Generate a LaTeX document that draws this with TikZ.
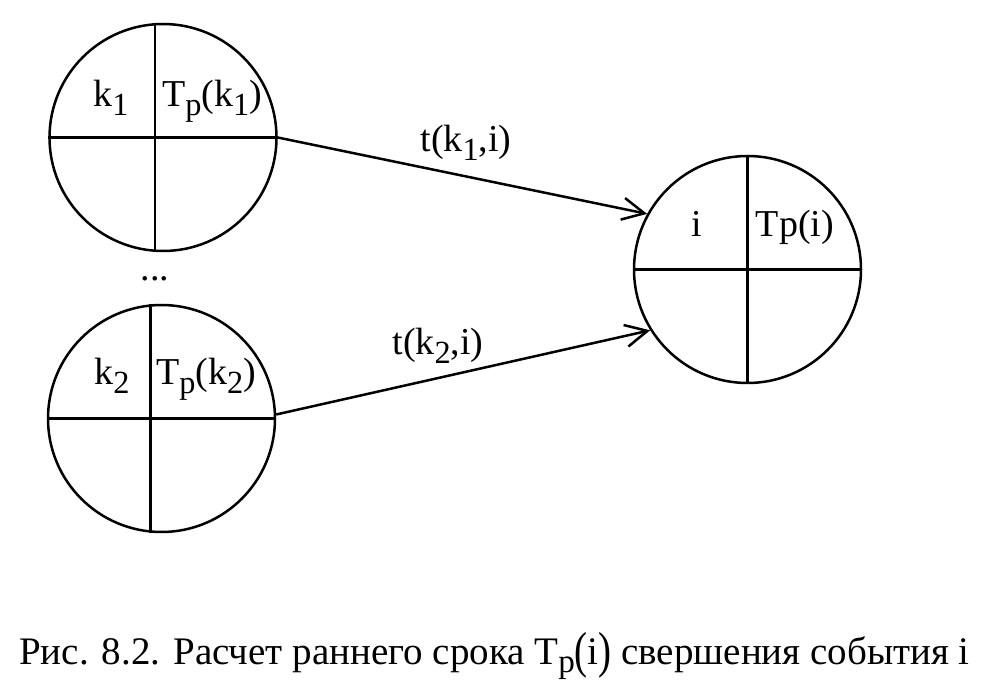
\documentclass[tikz,border=0pt]{standalone}
\usepackage{fontspec}
\setmainfont{Liberation Serif}
\usetikzlibrary{arrows.meta,positioning}
\newcommand\lowidx[1]{\raisebox{-.22em}{\scalebox{.85}{#1}}}
\newcommand\tallpar[1]{\raisebox{-.08em}{\scalebox{1}[1.3]{#1}}}

\begin{document}
\begin{tikzpicture}[x=1pt,y=-1pt,line width=2.5pt,
      ev/.style={draw,circle,minimum size=227pt,inner sep=0pt},
      lbl/.style={font=\fontsize{38}{40}\selectfont,inner sep=0pt,anchor=base},
      arr/.style={-{Straight Barb[length=22pt,width=22pt]}}]
  \useasboundingbox (0,0) rectangle (988,692);
  \node[ev] (e1) at (163,137.5) {};
  \node[ev] (e2) at (161.5,418.5) {};
  \node[ev] (ei) at (747.5,269.5) {};
  \draw (e1.west) -- (e1.east) ([xshift=-8pt]e1.north) -- ([xshift=-8pt]e1.south);
  \draw (e2.west) -- (e2.east) ([xshift=-11pt]e2.north) -- ([xshift=-11pt]e2.south);
  \draw (ei.west) -- (ei.east) (ei.north) -- (ei.south);
  \node[lbl] (k1) at (111,107) {k\lowidx{1}};
  \node[lbl] (t1) at (212,107) {T\lowidx{p}(k\lowidx{1})};
  \node[lbl] (k2) at (112,385) {k\lowidx{2}};
  \node[lbl] (t2) at (206,385) {T\lowidx{p}(k\lowidx{2})};
  \node[lbl] (ni) at (697,237) {i};
  \node[lbl] (ti) at (795,237) {Tp(i)};
  \node[lbl] (dots) at (155,281) {...};
  \draw[arr] (e1.east) -- (ei.151);
  \draw[arr] (e2.2) -- (ei.212);
  \node[lbl] (w1) at (466,152) {t(k\lowidx{1},i)};
  \node[lbl] (w2) at (438,355) {t(k\lowidx{2},i)};
  \node[lbl,anchor=base west,font=\fontsize{39}{41}\selectfont] (cap) at (18,664)
    {Рис. 8.2. Расчет раннего срока T\lowidx{p}\tallpar{(}i\tallpar{)} свершения события i};
\end{tikzpicture}
\end{document}
